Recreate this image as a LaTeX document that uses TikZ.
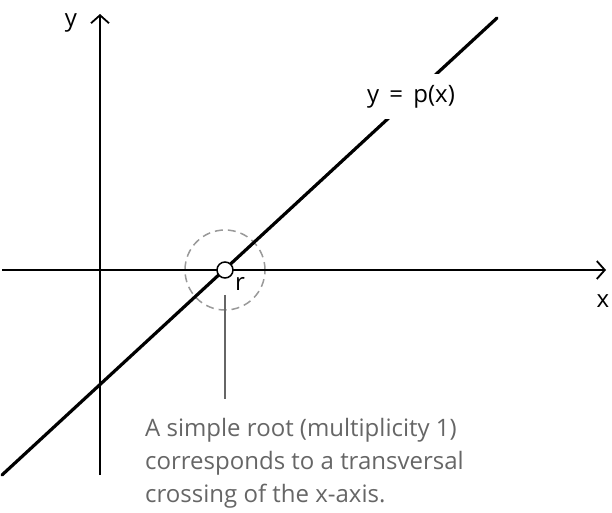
\documentclass[tikz,border=0pt]{standalone}
\usepackage{fontspec}
\setmainfont{Open Sans}
\usepackage{tikz}
\usetikzlibrary{arrows.meta}
\definecolor{annot}{HTML}{666666}
\definecolor{zone}{HTML}{999999}
\def\largeur{612}
\def\hauteur{512}

\begin{document}
\begin{tikzpicture}[x=1pt, y=-1pt, font=\fontsize{24}{33}\selectfont,
	axe/.style={line width=1.8pt, -{Straight Barb[length=8pt,width=18pt,line width=1.8pt]}}]
	\useasboundingbox (0,0) rectangle (\largeur,\hauteur);
	% zone autour de la racine
	\node[circle, draw=zone, dash pattern=on 8pt off 5pt, line width=1.5pt, minimum size=80pt] (zone) at (225,270){};
	% axes
	\coordinate (xg) at (2,270);
	\coordinate (xd) at (606,270);
	\coordinate (yb) at (100,475);
	\coordinate (yh) at (100,14);
	\draw[axe] (xg)--(xd);
	\draw[axe] (yb)--(yh);
	\node (x) at (603,301){x};
	\node (y) at (71,23){y};
	% droite y = p(x)
	\coordinate (pa) at (2,475);
	\coordinate (pb) at (497,18);
	\draw[line width=3.2pt, line cap=round] (pa)--(pb);
	\node[fill=white, anchor=base, inner xsep=3pt, inner ysep=11pt] (p) at (411,102){y\, = \,p(x)};
	% racine simple
	\node[circle, draw, fill=white, line width=1.5pt, minimum size=16pt, inner sep=0pt] (r) at (225,270){};
	\node (rl) at (240,284){r};
	\node[anchor=base west, text=annot, align=left, inner sep=0pt] (note) at (145,502){A simple root (multiplicity 1)\\corresponds to a transversal\\crossing of the x-axis.};
	\draw[annot, line width=1.5pt] ([yshift=-16pt]r.south)--([yshift=19pt]note.north -| r);
\end{tikzpicture}
\end{document}
